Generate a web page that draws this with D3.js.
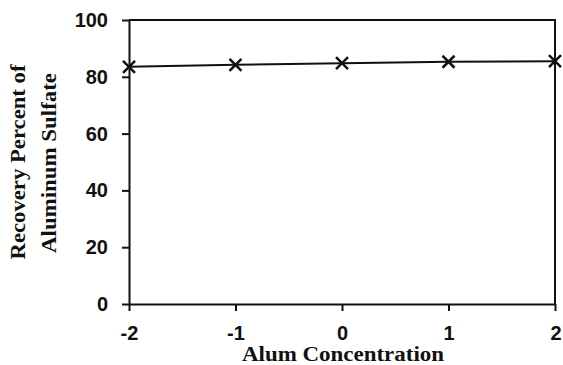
<!DOCTYPE html>
<html>
<head>
<meta charset="utf-8">
<script src="https://cdn.jsdelivr.net/npm/d3@7"></script>
<style>
  body { margin: 0; background: #fff; }
  svg { display: block; }
</style>
</head>
<body>
<main></main>
<script>
// data
const alumLevels = [-2, -1, 0, 1, 2];
const recovery = [83.5, 84.2, 84.8, 85.3, 85.5];
const yTicks = [0, 20, 40, 60, 80, 100];
const xTickLabels = ['-2', '-1', '0', '1', '2'];

const width = 563;
const height = 365;
const margin = {top: 20, right: 8, bottom: 61, left: 129};

const svg = d3.select('main')
  .append('svg')
  .attr('width', width)
  .attr('height', height);

const x = d3.scaleLinear().domain([-2, 2]).range([margin.left, width - margin.right]);
const y = d3.scaleLinear().domain([0, 100]).range([height - margin.bottom, margin.top]);

const ink = '#111';
const sans = '"Liberation Sans", Arial, sans-serif';
const serif = '"Liberation Serif", "Times New Roman", serif';

// frame: top and right edges
svg.append('path')
  .attr('d', `M${x(-2)},${y(100)}H${x(2)}V${y(0)}`)
  .attr('fill', 'none')
  .attr('stroke', ink)
  .attr('stroke-width', 2);

// y axis
const yAxis = svg.append('g')
  .attr('transform', `translate(${x(-2)},0)`)
  .call(d3.axisLeft(y).tickValues(yTicks).tickSize(7).tickSizeOuter(0));
yAxis.select('.domain').attr('stroke', ink).attr('stroke-width', 2);
yAxis.selectAll('.tick line').attr('stroke', ink).attr('stroke-width', 2);
yAxis.selectAll('.tick text')
  .attr('x', -21)
  .style('font-family', sans)
  .style('font-weight', 'bold')
  .style('font-size', '20px')
  .attr('fill', ink);

// x axis
const xAxis = svg.append('g')
  .attr('transform', `translate(0,${y(0)})`)
  .call(d3.axisBottom(x).tickValues(alumLevels)
    .tickFormat((d, i) => xTickLabels[i]).tickSize(7).tickSizeOuter(0));
xAxis.select('.domain').attr('stroke', ink).attr('stroke-width', 2);
xAxis.selectAll('.tick line').attr('stroke', ink).attr('stroke-width', 2);
xAxis.selectAll('.tick text')
  .attr('y', 22)
  .style('font-family', sans)
  .style('font-weight', 'bold')
  .style('font-size', '20px')
  .attr('fill', ink);
// last label sits against the right edge
xAxis.selectAll('.tick text').filter(d => d === 2).attr('text-anchor', 'end').attr('dx', 6);

// series line
const points = alumLevels.map((a, i) => ({a, v: recovery[i]}));
svg.append('path')
  .datum(points)
  .attr('fill', 'none')
  .attr('stroke', ink)
  .attr('stroke-width', 2)
  .attr('d', d3.line().x(d => x(d.a)).y(d => y(d.v)));

// x markers
const s = 6;
svg.append('g')
  .selectAll('path')
  .data(points)
  .join('path')
  .attr('d', d => {
    const cx = x(d.a), cy = y(d.v);
    return `M${cx - s},${cy - s}L${cx + s},${cy + s}M${cx - s},${cy + s}L${cx + s},${cy - s}`;
  })
  .attr('stroke', ink)
  .attr('stroke-width', 2.5);

// titles
svg.append('text')
  .attr('x', x(0) + 1)
  .attr('y', 361)
  .attr('text-anchor', 'middle')
  .attr('textLength', 202)
  .attr('lengthAdjust', 'spacingAndGlyphs')
  .style('font-family', serif)
  .style('font-weight', 'bold')
  .style('font-size', '20px')
  .attr('fill', ink)
  .text('Alum Concentration');

const yTitle = svg.append('g')
  .attr('transform', 'rotate(-90)')
  .style('font-family', serif)
  .style('font-weight', 'bold')
  .style('font-size', '22px')
  .attr('fill', ink);
yTitle.append('text')
  .attr('x', -162).attr('y', 25)
  .attr('text-anchor', 'middle')
  .attr('textLength', 195)
  .attr('lengthAdjust', 'spacingAndGlyphs')
  .text('Recovery Percent of');
yTitle.append('text')
  .attr('x', -163).attr('y', 56)
  .attr('text-anchor', 'middle')
  .attr('textLength', 180)
  .attr('lengthAdjust', 'spacingAndGlyphs')
  .text('Aluminum Sulfate');
</script>
</body>
</html>
